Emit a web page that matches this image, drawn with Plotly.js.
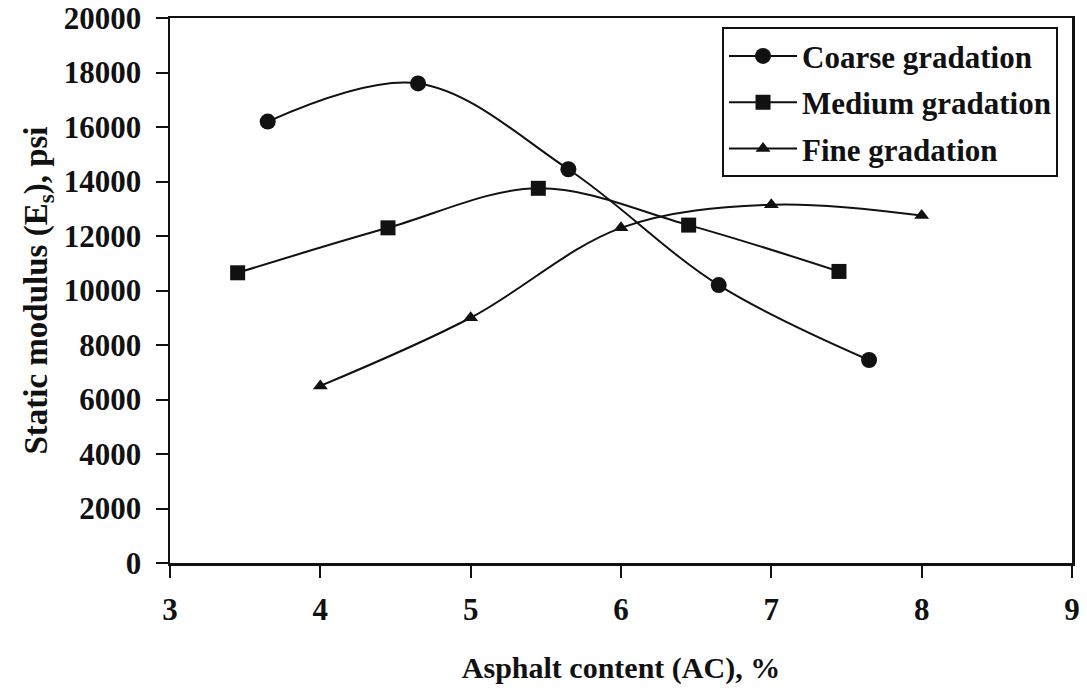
<!DOCTYPE html>
<html>
<head>
<meta charset="utf-8">
<script src="https://cdn.plot.ly/plotly-3.0.1.min.js"></script>
<style>html,body{margin:0;padding:0;background:#fff;}#chart{width:1087px;height:690px;}</style>
</head>
<body>
<div id="chart"></div>
<script>
const seriesNames = ["Coarse gradation", "Medium gradation", "Fine gradation"];
const coarseX = [3.65, 4.65, 5.65, 6.65, 7.65];
const coarseY = [16200, 17600, 14450, 10200, 7450];
const mediumX = [3.45, 4.45, 5.45, 6.45, 7.45];
const mediumY = [10650, 12300, 13750, 12400, 10700];
const fineX = [4, 5, 6, 7, 8];
const fineY = [6500, 9000, 12300, 13150, 12750];
const xTicks = [3, 4, 5, 6, 7, 8, 9];
const yTicks = [0, 2000, 4000, 6000, 8000, 10000, 12000, 14000, 16000, 18000, 20000];

const FONT = "Liberation Serif, Times New Roman, serif";
function tr(name, x, y, symbol, size, group) {
  return {
    type: 'scatter', mode: 'lines+markers', name: name, x: x, y: y,
    legendgroup: group,
    line: {color: '#111', width: 2, shape: 'spline', smoothing: 1},
    marker: {symbol: symbol, size: size, color: '#111'}
  };
}
const data = [
  tr(seriesNames[0], coarseX, coarseY, 'circle', 16, 'a'),
  tr(seriesNames[1], mediumX, mediumY, 'square', 15, 'b'),
  tr(seriesNames[2], fineX, fineY, 'triangle-up', 13, 'c')
];
const layout = {
  width: 1087, height: 690,
  margin: {l: 170, r: 15, t: 18, b: 127},
  paper_bgcolor: '#fff', plot_bgcolor: '#fff',
  font: {family: FONT, color: '#111', size: 26, weight: 'bold'},
  showlegend: true,
  legend: {
    x: 0.612, y: 0.983, xanchor: 'left', yanchor: 'top',
    bordercolor: '#111', borderwidth: 2, bgcolor: '#fff',
    font: {family: FONT, size: 31, color: '#111', weight: 'bold'},
    itemwidth: 68, tracegroupgap: 3
  },
  xaxis: {
    range: [3, 9], tickvals: xTicks, ticktext: xTicks.map(String),
    ticks: 'outside', ticklen: 12, tickwidth: 2, tickcolor: '#111',
    showline: true, linecolor: '#111', linewidth: 2.5, mirror: true,
    showgrid: false, zeroline: false, ticklabelstandoff: 5,
    tickfont: {family: FONT, size: 31, weight: 'bold', color: '#111'},
    title: {text: 'Asphalt content (AC), %', font: {family: FONT, size: 30, weight: 'bold', color: '#111'}, standoff: 32}
  },
  yaxis: {
    range: [0, 20000], tickvals: yTicks, ticktext: yTicks.map(String),
    ticks: 'outside', ticklen: 12, tickwidth: 2, tickcolor: '#111',
    showline: true, linecolor: '#111', linewidth: 2.5, mirror: true,
    showgrid: false, zeroline: false, ticklabelstandoff: 8,
    tickfont: {family: FONT, size: 31, weight: 'bold', color: '#111'},
    title: {text: 'Static modulus (E<sub>s</sub>), psi', font: {family: FONT, size: 33, weight: 'bold', color: '#111'}, standoff: 6}
  }
};
Plotly.newPlot('chart', data, layout, {displayModeBar: false, staticPlot: true});
</script>
</body>
</html>
